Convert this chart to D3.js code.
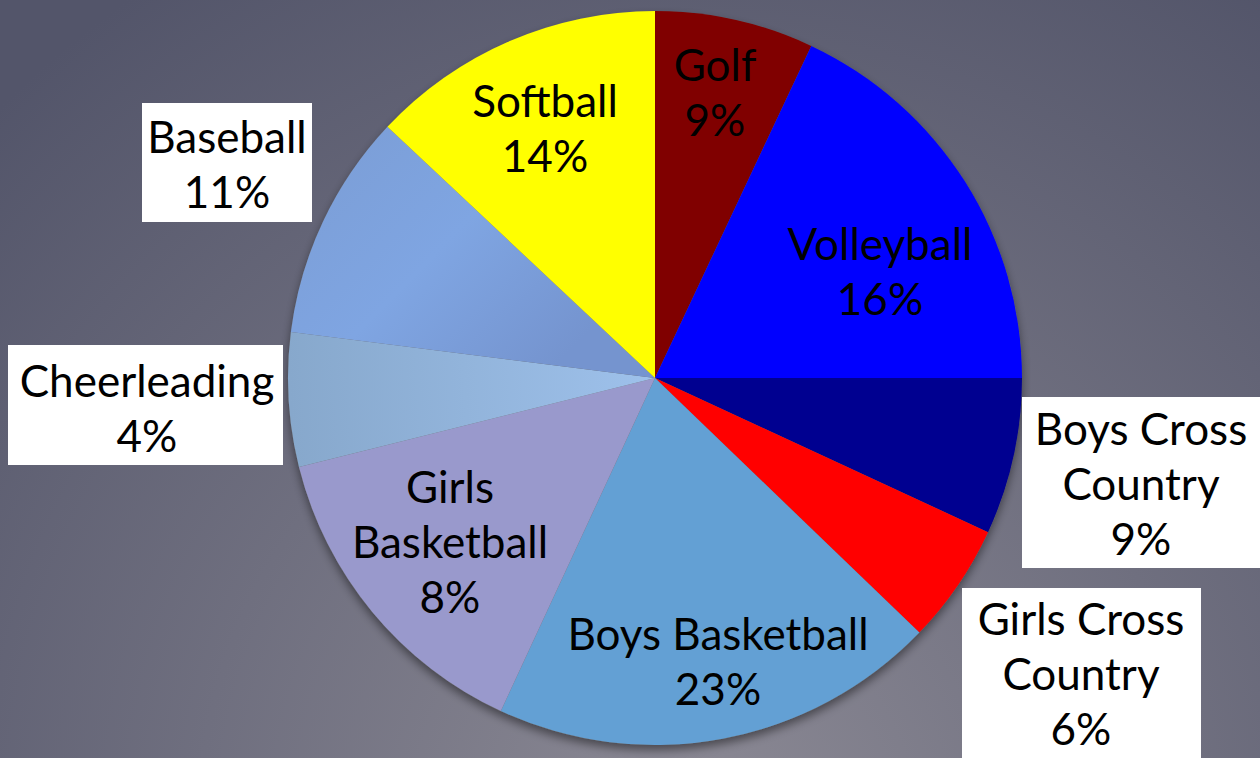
<!DOCTYPE html>
<html>
<head>
<meta charset="utf-8">
<script src="https://cdn.jsdelivr.net/npm/d3@7"></script>
<style>
  html, body { margin: 0; padding: 0; overflow: hidden; }
  svg { display: block; }
</style>
</head>
<body>
<svg id="chart" width="1260" height="758"></svg>
<script>
const categories = ["Golf", "Volleyball", "Boys Cross Country", "Girls Cross Country",
  "Boys Basketball", "Girls Basketball", "Cheerleading", "Baseball", "Softball"];
const sliceShares = [7.0, 18.0, 6.9, 5.3, 19.7, 14.2, 5.9, 10.0, 13.0];
const percentLabels = ["9%", "16%", "9%", "6%", "23%", "8%", "4%", "11%", "14%"];
const labelLines = [["Golf"], ["Volleyball"], ["Boys Cross", "Country"], ["Girls Cross", "Country"],
  ["Boys Basketball"], ["Girls", "Basketball"], ["Cheerleading"], ["Baseball"], ["Softball"]];
const sliceColors = ["#800000", "#0000ff", "#000090", "#ff0000", "#63a0d4", "#9999cc",
  "url(#gCheer)", "url(#gBase)", "#ffff00"];

// ---- layout ----
const W = 1260, H = 758;
const cx = 655, cy = 378, R = 367;
const fontSize = 44, lineH = 55;
// label anchor: center x, first baseline y, optional white box [x,y,w,h]
const labelLayout = [
  { x: 715, y: 81 },
  { x: 880, y: 260 },
  { x: 1141, y: 445, box: [1022, 397, 238, 171] },
  { x: 1081, y: 635, box: [962, 588, 239, 175] },
  { x: 718, y: 650 },
  { x: 450, y: 503 },
  { x: 147, y: 397, box: [8, 345, 275, 120] },
  { x: 227, y: 153, box: [142, 103, 170, 119] },
  { x: 545, y: 117 }
];

const svg = d3.select("#chart");
const defs = svg.append("defs");

const bg = defs.append("radialGradient").attr("id", "bgGrad")
  .attr("gradientUnits", "userSpaceOnUse")
  .attr("cx", 700).attr("cy", 820).attr("r", 1000);
bg.append("stop").attr("offset", "0").attr("stop-color", "#8b8994");
bg.append("stop").attr("offset", "1").attr("stop-color", "#53556a");

const gBase = defs.append("linearGradient").attr("id", "gBase")
  .attr("gradientUnits", "userSpaceOnUse")
  .attr("x1", 350).attr("y1", 150).attr("x2", 560).attr("y2", 360);
gBase.append("stop").attr("offset", "0").attr("stop-color", "#7c9fd8");
gBase.append("stop").attr("offset", "0.45").attr("stop-color", "#7fa5e2");
gBase.append("stop").attr("offset", "1").attr("stop-color", "#7594cf");

const gCheer = defs.append("linearGradient").attr("id", "gCheer")
  .attr("gradientUnits", "userSpaceOnUse")
  .attr("x1", 290).attr("y1", 400).attr("x2", 640).attr("y2", 380);
gCheer.append("stop").attr("offset", "0").attr("stop-color", "#87a8cc");
gCheer.append("stop").attr("offset", "1").attr("stop-color", "#9dc0ea");

const sh = defs.append("filter").attr("id", "shadow")
  .attr("x", "-10%").attr("y", "-10%").attr("width", "120%").attr("height", "125%");
sh.append("feDropShadow").attr("dx", 0).attr("dy", 5).attr("stdDeviation", 5)
  .attr("flood-color", "#000").attr("flood-opacity", 0.45);

svg.append("rect").attr("width", W).attr("height", H).attr("fill", "url(#bgGrad)");

const pie = d3.pie().sort(null).value(d => d)(sliceShares);
const arc = d3.arc().innerRadius(0).outerRadius(R);

const g = svg.append("g").attr("transform", `translate(${cx},${cy})`);
g.append("circle").attr("r", R).attr("fill", "#666").attr("filter", "url(#shadow)");
g.selectAll("path.slice").data(pie).join("path")
  .attr("class", "slice")
  .attr("d", arc)
  .attr("fill", (d, i) => sliceColors[i]);
svg.select("#gBase").attr("gradientTransform", `translate(${-cx},${-cy})`);
svg.select("#gCheer").attr("gradientTransform", `translate(${-cx},${-cy})`);

const labels = svg.append("g").attr("font-family", "Lato, 'Open Sans', sans-serif")
  .attr("font-size", fontSize).attr("fill", "#000").attr("text-anchor", "middle");

categories.forEach((c, i) => {
  const L = labelLayout[i];
  if (L.box) {
    labels.append("rect").attr("x", L.box[0]).attr("y", L.box[1])
      .attr("width", L.box[2]).attr("height", L.box[3]).attr("fill", "#fff");
  }
  const lines = labelLines[i].concat([percentLabels[i]]);
  const t = labels.append("text").attr("x", L.x).attr("y", L.y);
  lines.forEach((ln, k) => {
    t.append("tspan").attr("x", L.x).attr("dy", k === 0 ? 0 : lineH).text(ln);
  });
});
</script>
</body>
</html>
